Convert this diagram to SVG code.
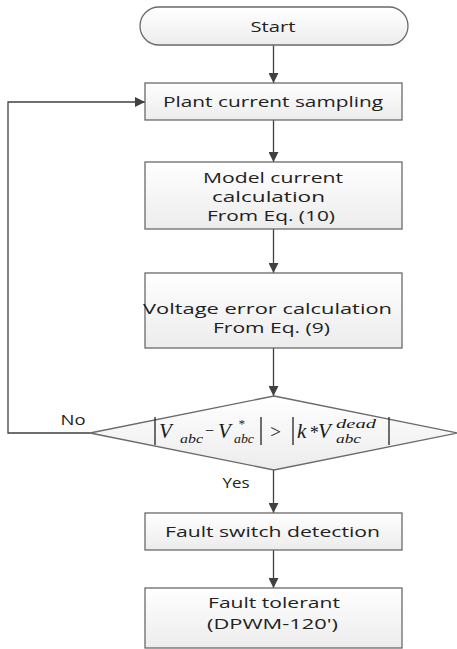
<svg xmlns="http://www.w3.org/2000/svg" width="457" height="649" viewBox="0 0 457 649">
<defs>
<linearGradient id="g" x1="0" y1="0" x2="0" y2="1"><stop offset="0" stop-color="#ffffff"/><stop offset="1" stop-color="#ececec"/></linearGradient>
<marker id="ah" viewBox="0 0 10 10" refX="10" refY="5" markerWidth="10" markerHeight="10" markerUnits="userSpaceOnUse" orient="auto"><path d="M0,0 L10,5 L0,10 Z" fill="#404040"/></marker>
<style>
.b{fill:url(#g);stroke:#6a6a6a;stroke-width:1.3}
.t{font-family:"Open Sans","Liberation Sans",sans-serif;font-size:15px;fill:#222;text-anchor:middle}
.c{fill:none;stroke:#404040;stroke-width:1.3;marker-end:url(#ah)}
.m{font-family:"Liberation Serif",serif;font-style:italic;fill:#1a1a1a}
.bar{stroke:#222;stroke-width:1.3}
</style>
</defs>
<rect width="457" height="649" fill="#fff"/>
<g id="connectors">
<line class="c" x1="273.5" y1="45" x2="273.5" y2="83"/>
<line class="c" x1="273.5" y1="120" x2="273.5" y2="162"/>
<line class="c" x1="273.5" y1="229" x2="273.5" y2="273"/>
<line class="c" x1="273.5" y1="348" x2="273.5" y2="396"/>
<line class="c" x1="273.5" y1="470" x2="273.5" y2="513"/>
<line class="c" x1="273.5" y1="550" x2="273.5" y2="588"/>
<path class="c" d="M90,433 H8 V102 H145"/>
<text class="t" x="73" y="425" textLength="25" lengthAdjust="spacingAndGlyphs">No</text>
<text class="t" x="236" y="488" textLength="27" lengthAdjust="spacingAndGlyphs">Yes</text>
</g>
<g id="start">
<rect class="b" x="140" y="7" width="268" height="38" rx="19" ry="19"/>
<text class="t" x="273" y="32" textLength="45" lengthAdjust="spacingAndGlyphs">Start</text>
</g>
<g id="plant">
<rect class="b" x="145" y="83" width="257" height="37"/>
<text class="t" x="273" y="107" textLength="220" lengthAdjust="spacingAndGlyphs">Plant current sampling</text>
</g>
<g id="model">
<rect class="b" x="145" y="162" width="257" height="67"/>
<text class="t" x="273" y="183" textLength="140" lengthAdjust="spacingAndGlyphs">Model current</text>
<text class="t" x="268.5" y="202" textLength="113" lengthAdjust="spacingAndGlyphs">calculation</text>
<text class="t" x="271" y="221" textLength="128" lengthAdjust="spacingAndGlyphs">From Eq. (10)</text>
</g>
<g id="voltage">
<rect class="b" x="145" y="273" width="257" height="75"/>
<text class="t" x="267.5" y="314" textLength="249" lengthAdjust="spacingAndGlyphs">Voltage error calculation</text>
<text class="t" x="271.5" y="333" textLength="117" lengthAdjust="spacingAndGlyphs">From Eq. (9)</text>
</g>
<g id="decision">
<polygon class="b" points="274,396 458,433 274,470 90,433"/>
<line class="bar" x1="155" y1="417" x2="155" y2="445"/>
<text class="m" x="159" y="438" font-size="21">V</text>
<text class="m" x="180" y="443" font-size="13" textLength="23" lengthAdjust="spacingAndGlyphs">abc</text>
<text class="m" x="204" y="436" font-size="16" font-style="normal">−</text>
<text class="m" x="218" y="438" font-size="21">V</text>
<text class="m" x="238" y="428" font-size="13">*</text>
<text class="m" x="234" y="443" font-size="13" textLength="20" lengthAdjust="spacingAndGlyphs">abc</text>
<line class="bar" x1="261" y1="417" x2="261" y2="445"/>
<text class="m" x="269" y="438" font-size="19" font-style="normal">&gt;</text>
<line class="bar" x1="293" y1="417" x2="293" y2="445"/>
<text class="m" x="297" y="438" font-size="21">k</text>
<text class="m" x="309" y="439" font-size="18" font-style="normal">*</text>
<text class="m" x="318" y="438" font-size="21">V</text>
<text class="m" x="336" y="428" font-size="13" textLength="40" lengthAdjust="spacingAndGlyphs">dead</text>
<text class="m" x="336" y="443" font-size="13" textLength="25" lengthAdjust="spacingAndGlyphs">abc</text>
<line class="bar" x1="389" y1="417" x2="389" y2="445"/>
</g>
<g id="fault-detect">
<rect class="b" x="145" y="513" width="257" height="37"/>
<text class="t" x="272.5" y="537" textLength="215" lengthAdjust="spacingAndGlyphs">Fault switch detection</text>
</g>
<g id="fault-tolerant">
<rect class="b" x="145" y="588" width="257" height="60"/>
<text class="t" x="274" y="608" textLength="132" lengthAdjust="spacingAndGlyphs">Fault tolerant</text>
<text class="t" x="272.5" y="629" textLength="131" lengthAdjust="spacingAndGlyphs">(DPWM-120')</text>
</g>
</svg>
